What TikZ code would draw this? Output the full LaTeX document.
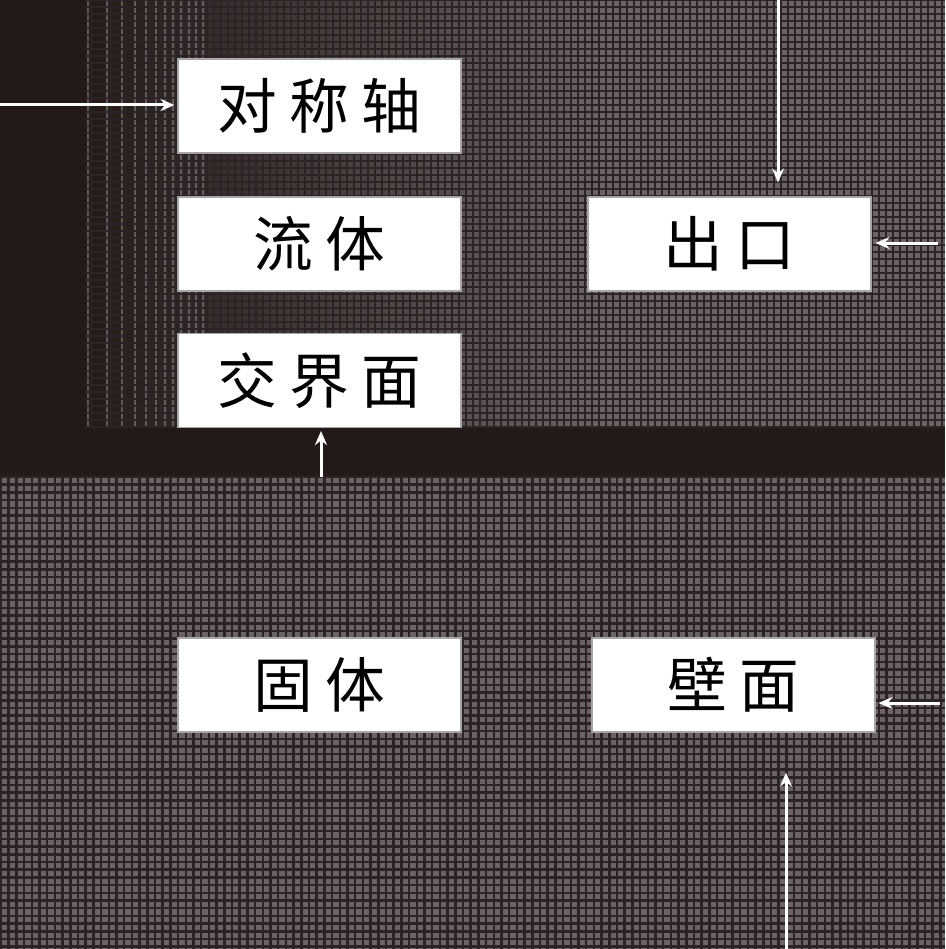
\documentclass[tikz,border=0pt]{standalone}
\usepackage{fontspec}
\newfontfamily\cjk[LetterSpace=20]{Noto Sans CJK SC}
\usetikzlibrary{arrows.meta, positioning}
\definecolor{meshbg}{HTML}{231A18}
\definecolor{meshcell}{HTML}{6C6264}
\definecolor{meshline}{HTML}{2C2324}
\definecolor{meshlit}{HTML}{8A8082}

\begin{document}
\begin{tikzpicture}[x=0.1mm, y=-0.1mm,
    zonebox/.style={draw=gray!70, line width=0.3pt, fill=white, minimum width=28.3mm, minimum height=9.4mm, inner sep=0pt, font=\cjk\fontsize{17}{20}\selectfont},
    flow/.style={white, line width=0.3mm, -{Stealth[length=1.4mm, width=1.2mm]}},
    gridline/.style={meshline, line width=0.25mm}
]

% background
\fill[meshbg] (0,0) rectangle (945,949);
\useasboundingbox (0,0) rectangle (945,949);

% lower mesh (solid region)
\fill[meshcell] (0,477) rectangle (945,949);
\foreach \x in {1,8.7,...,945} \draw[gridline] (\x,477) -- (\x,949);
\foreach \y in {477,484.7,...,949} \draw[gridline] (0,\y) -- (945,\y);

% upper mesh (fluid region), finer to the right
\shade[left color=meshbg, right color=meshcell] (85,0) rectangle (600,427);
\fill[meshcell] (600,0) rectangle (945,427);
\foreach \x in {88,107,122,135,146,156,165,173,181,189,196,203}
    \draw[meshlit, line width=0.15mm, opacity=0.6] (\x,0) -- (\x,427);
\foreach \x in {91,111,126,139,150,160,169,177,185,193,200,207,214,221,...,945}
    \draw[gridline] (\x,0) -- (\x,427);
\foreach \y in {0,7,...,427} \draw[gridline] (85,\y) -- (945,\y);

% zone labels
\node[zonebox] (axis) at (319.5,106) {对称轴};
\node[zonebox] (fluid) at (319.5,244) {流体};
\node[zonebox] (iface) at (319.5,380.5) {交界面};
\node[zonebox] (outlet) at (729.5,244) {出口};
\node[zonebox] (solid) at (319.5,685) {固体};
\node[zonebox] (wall) at (733.5,685) {壁面};

% arrows
\coordinate (axisin) at (0,105);
\coordinate (outtop) at (778,0);
\coordinate (outright) at (938,243);
\coordinate (ifacein) at (321,477);
\coordinate (wallright) at (940,703);
\coordinate (wallbottom) at (786,949);
\draw[flow, shorten >=0.3mm] (axisin) -- (axisin -| axis.west);
\draw[flow, shorten >=1.4mm] (outtop) -- (outtop |- outlet.north);
\draw[flow, shorten >=0.4mm] (outright) -- (outright -| outlet.east);
\draw[flow, shorten >=0.3mm] (ifacein) -- (ifacein |- iface.south);
\draw[flow, shorten >=0.3mm] (wallright) -- (wallright -| wall.east);
\draw[flow, shorten >=4mm] (wallbottom) -- (wallbottom |- wall.south);

\end{tikzpicture}
\end{document}
